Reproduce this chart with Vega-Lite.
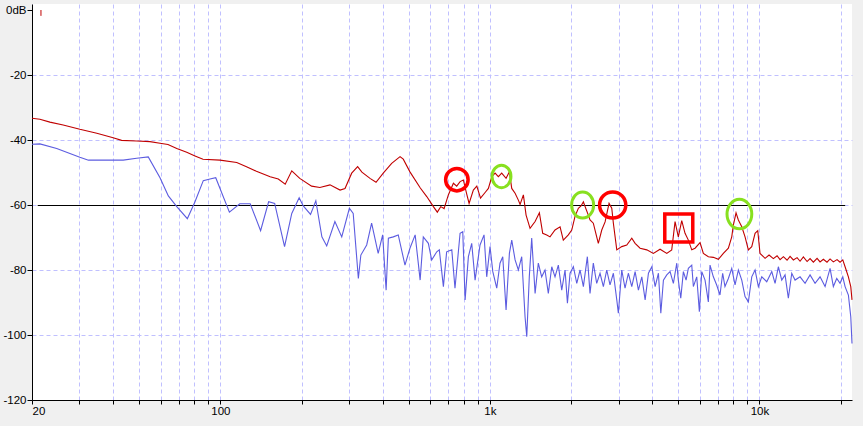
{
"$schema": "https://vega.github.io/schema/vega-lite/v6.json",
"width": 820, "height": 396,
"autosize": {"type": "none"},
"padding": {"left": 32, "top": 4, "right": 11, "bottom": 26},
"background": "#f0f0f0",
"config": {"view": {"fill": "white", "stroke": null}, "font": "Liberation Sans",
 "axis": {"labelFont": "Liberation Sans", "labelFontSize": 11.5, "labelColor": "black", "tickColor": "black", "domainColor": "black", "title": null, "gridDash": [4, 3], "labelOverlap": false}},
"datasets": {
"red": [
{"f":20,"db":-33.3},{"f":21.4,"db":-33.6},{"f":23.3,"db":-34.5},{"f":26.1,"db":-35.4},{"f":30.1,"db":-36.7},{"f":34.8,"db":-37.9},{"f":40,"db":-39.3},{"f":43,"db":-40.1},{"f":48.9,"db":-40.3},{"f":54.8,"db":-40.5},{"f":59.7,"db":-41.0},{"f":63.9,"db":-41.4},{"f":68.9,"db":-42.6},{"f":75,"db":-43.8},{"f":80.5,"db":-44.9},{"f":86.2,"db":-45.9},{"f":99.7,"db":-46.2},{"f":115,"db":-46.9},{"f":125,"db":-48.2},{"f":136,"db":-49.6},{"f":153,"db":-51.3},{"f":164,"db":-52.0},{"f":174,"db":-53.6},{"f":184,"db":-49.5},{"f":197,"db":-51.8},{"f":218,"db":-54.2},{"f":234,"db":-54.6},{"f":255,"db":-53.8},{"f":278,"db":-55.4},{"f":290,"db":-54.9},{"f":307,"db":-50.2},{"f":323,"db":-48.2},{"f":335,"db":-49.9},{"f":359,"db":-51.8},{"f":378,"db":-53.0},{"f":402,"db":-50.2},{"f":432,"db":-47.2},{"f":464,"db":-45.1},{"f":477,"db":-45.9},{"f":505,"db":-49.8},{"f":551,"db":-54.7},{"f":583,"db":-57.4},{"f":617,"db":-60.5},{"f":638,"db":-62.2},{"f":657,"db":-60.5},{"f":676,"db":-61.1},{"f":701,"db":-56.9},{"f":732,"db":-53.3},{"f":753,"db":-54.2},{"f":775,"db":-52.8},{"f":797,"db":-52.3},{"f":819,"db":-56.4},{"f":837,"db":-59.5},{"f":868,"db":-55.4},{"f":894,"db":-54.2},{"f":923,"db":-57.9},{"f":963,"db":-56.0},{"f":987,"db":-54.9},{"f":1016,"db":-51.3},{"f":1045,"db":-50.2},{"f":1075,"db":-51.3},{"f":1106,"db":-50.2},{"f":1148,"db":-51.8},{"f":1181,"db":-49.8},{"f":1205,"db":-54.9},{"f":1240,"db":-56.4},{"f":1275,"db":-58.5},{"f":1294,"db":-59.8},{"f":1331,"db":-56.9},{"f":1362,"db":-63.1},{"f":1409,"db":-67.2},{"f":1471,"db":-65.1},{"f":1526,"db":-62.4},{"f":1570,"db":-68.7},{"f":1625,"db":-69.2},{"f":1671,"db":-69.8},{"f":1744,"db":-67.7},{"f":1821,"db":-66.7},{"f":1872,"db":-70.8},{"f":1954,"db":-69.2},{"f":2012,"db":-67.7},{"f":2070,"db":-63.4},{"f":2129,"db":-61.0},{"f":2178,"db":-60.3},{"f":2222,"db":-59.0},{"f":2267,"db":-61.0},{"f":2318,"db":-63.1},{"f":2352,"db":-64.6},{"f":2419,"db":-65.6},{"f":2490,"db":-69.8},{"f":2525,"db":-71.8},{"f":2600,"db":-67.7},{"f":2675,"db":-65.2},{"f":2767,"db":-59.5},{"f":2832,"db":-61.0},{"f":2871,"db":-65.6},{"f":2956,"db":-73.8},{"f":3084,"db":-72.8},{"f":3219,"db":-72.3},{"f":3360,"db":-70.2},{"f":3457,"db":-71.8},{"f":3607,"db":-73.3},{"f":3820,"db":-73.8},{"f":4040,"db":-74.9},{"f":4278,"db":-73.6},{"f":4531,"db":-74.9},{"f":4727,"db":-73.8},{"f":4863,"db":-65.1},{"f":5001,"db":-69.8},{"f":5149,"db":-64.8},{"f":5296,"db":-68.7},{"f":5448,"db":-70.8},{"f":5609,"db":-73.8},{"f":5769,"db":-73.3},{"f":6021,"db":-71.6},{"f":6193,"db":-74.9},{"f":6463,"db":-75.9},{"f":6745,"db":-76.1},{"f":7040,"db":-76.7},{"f":7347,"db":-74.9},{"f":7668,"db":-73.3},{"f":7893,"db":-69.8},{"f":8002,"db":-66.2},{"f":8188,"db":-62.4},{"f":8352,"db":-64.6},{"f":8598,"db":-66.7},{"f":8843,"db":-69.8},{"f":9097,"db":-73.8},{"f":9364,"db":-72.8},{"f":9633,"db":-68.7},{"f":9857,"db":-67.9},{"f":10050,"db":-74.9},{"f":10492,"db":-76.4},{"f":10856,"db":-75.4},{"f":11263,"db":-76.5},{"f":11626,"db":-75.6},{"f":11927,"db":-76.8},{"f":12271,"db":-75.9},{"f":12660,"db":-77.0},{"f":12990,"db":-75.8},{"f":13364,"db":-76.9},{"f":13794,"db":-76.2},{"f":14148,"db":-77.3},{"f":14554,"db":-76.0},{"f":15023,"db":-77.4},{"f":15410,"db":-76.5},{"f":15851,"db":-77.6},{"f":16362,"db":-76.4},{"f":16784,"db":-77.5},{"f":17265,"db":-76.7},{"f":17810,"db":-77.6},{"f":18282,"db":-76.6},{"f":18802,"db":-77.5},{"f":19406,"db":-76.8},{"f":19914,"db":-77.6},{"f":20380,"db":-76.9},{"f":20784,"db":-79.0},{"f":21380,"db":-82.1},{"f":21820,"db":-85.1},{"f":22050,"db":-89.2}
],
"blue": [
{"f":20,"db":-41.3},{"f":21.4,"db":-41.2},{"f":24.7,"db":-42.6},{"f":30.1,"db":-45.3},{"f":32.4,"db":-46.2},{"f":43.6,"db":-46.2},{"f":48.9,"db":-45.6},{"f":54,"db":-45.2},{"f":59.7,"db":-51.6},{"f":64.1,"db":-57.2},{"f":68.9,"db":-60.5},{"f":75.4,"db":-64.2},{"f":80.5,"db":-59.0},{"f":86.4,"db":-52.5},{"f":91.5,"db":-52.0},{"f":96.1,"db":-51.6},{"f":108,"db":-62.2},{"f":118,"db":-59.6},{"f":129,"db":-59.6},{"f":141,"db":-67.9},{"f":151,"db":-59.0},{"f":159,"db":-59.5},{"f":173,"db":-72.8},{"f":184,"db":-62.6},{"f":196,"db":-57.8},{"f":203,"db":-60.3},{"f":216,"db":-62.9},{"f":226,"db":-58.7},{"f":238,"db":-69.8},{"f":248,"db":-72.6},{"f":266,"db":-65.1},{"f":282,"db":-69.8},{"f":301,"db":-61.0},{"f":311,"db":-62.6},{"f":325,"db":-82.6},{"f":332,"db":-75.4},{"f":349,"db":-72.3},{"f":364,"db":-65.6},{"f":385,"db":-74.9},{"f":400,"db":-69.2},{"f":412,"db":-86.2},{"f":420,"db":-70.2},{"f":438,"db":-69.8},{"f":457,"db":-69.2},{"f":484,"db":-78.5},{"f":505,"db":-73.3},{"f":528,"db":-69.2},{"f":551,"db":-83.1},{"f":566,"db":-69.8},{"f":591,"db":-71.8},{"f":608,"db":-76.9},{"f":635,"db":-74.4},{"f":649,"db":-73.8},{"f":672,"db":-85.1},{"f":691,"db":-74.4},{"f":722,"db":-73.8},{"f":742,"db":-85.6},{"f":775,"db":-68.7},{"f":793,"db":-68.2},{"f":809,"db":-89.2},{"f":832,"db":-75.9},{"f":856,"db":-71.8},{"f":881,"db":-83.1},{"f":919,"db":-72.3},{"f":951,"db":-69.2},{"f":973,"db":-82.1},{"f":1001,"db":-72.8},{"f":1025,"db":-80.5},{"f":1060,"db":-85.6},{"f":1090,"db":-77.9},{"f":1116,"db":-75.9},{"f":1148,"db":-92.3},{"f":1181,"db":-74.9},{"f":1205,"db":-70.8},{"f":1240,"db":-76.9},{"f":1275,"db":-80.0},{"f":1312,"db":-75.9},{"f":1350,"db":-94.4},{"f":1370,"db":-100.5},{"f":1400,"db":-82.1},{"f":1429,"db":-70.2},{"f":1471,"db":-87.2},{"f":1512,"db":-77.9},{"f":1556,"db":-82.1},{"f":1601,"db":-80.0},{"f":1647,"db":-87.2},{"f":1696,"db":-79.0},{"f":1744,"db":-82.1},{"f":1794,"db":-78.5},{"f":1847,"db":-86.2},{"f":1900,"db":-80.0},{"f":1939,"db":-90.2},{"f":1983,"db":-81.0},{"f":2040,"db":-79.0},{"f":2100,"db":-84.1},{"f":2160,"db":-80.0},{"f":2222,"db":-85.1},{"f":2299,"db":-75.9},{"f":2352,"db":-87.2},{"f":2419,"db":-77.9},{"f":2490,"db":-84.1},{"f":2562,"db":-81.0},{"f":2636,"db":-85.1},{"f":2713,"db":-80.0},{"f":2790,"db":-84.6},{"f":2871,"db":-81.0},{"f":2956,"db":-89.2},{"f":2996,"db":-93.3},{"f":3084,"db":-80.0},{"f":3172,"db":-85.6},{"f":3263,"db":-81.0},{"f":3360,"db":-85.1},{"f":3457,"db":-80.5},{"f":3556,"db":-86.2},{"f":3661,"db":-82.1},{"f":3766,"db":-89.2},{"f":3874,"db":-81.0},{"f":3988,"db":-79.0},{"f":4102,"db":-85.1},{"f":4219,"db":-81.0},{"f":4306,"db":-93.3},{"f":4403,"db":-83.1},{"f":4531,"db":-81.5},{"f":4660,"db":-80.5},{"f":4794,"db":-84.1},{"f":4935,"db":-77.9},{"f":5001,"db":-83.1},{"f":5106,"db":-88.7},{"f":5221,"db":-80.5},{"f":5343,"db":-83.1},{"f":5448,"db":-79.5},{"f":5609,"db":-78.5},{"f":5686,"db":-85.1},{"f":5853,"db":-82.1},{"f":5985,"db":-92.8},{"f":6109,"db":-80.5},{"f":6283,"db":-83.1},{"f":6463,"db":-89.8},{"f":6557,"db":-78.5},{"f":6745,"db":-82.1},{"f":6939,"db":-84.6},{"f":7138,"db":-87.7},{"f":7304,"db":-81.0},{"f":7449,"db":-85.1},{"f":7668,"db":-82.6},{"f":7893,"db":-79.5},{"f":8119,"db":-84.6},{"f":8352,"db":-80.0},{"f":8598,"db":-83.1},{"f":8843,"db":-88.2},{"f":9097,"db":-89.8},{"f":9364,"db":-82.1},{"f":9633,"db":-80.0},{"f":9908,"db":-85.1},{"f":10201,"db":-82.1},{"f":10645,"db":-83.6},{"f":11110,"db":-80.5},{"f":11428,"db":-84.1},{"f":11754,"db":-79.0},{"f":12100,"db":-83.1},{"f":12447,"db":-81.5},{"f":12802,"db":-88.7},{"f":13179,"db":-81.0},{"f":13557,"db":-83.1},{"f":14148,"db":-82.1},{"f":14767,"db":-84.1},{"f":15410,"db":-81.5},{"f":16083,"db":-84.1},{"f":16784,"db":-82.1},{"f":17518,"db":-85.1},{"f":18282,"db":-79.5},{"f":18802,"db":-85.1},{"f":19355,"db":-82.6},{"f":19914,"db":-84.1},{"f":20380,"db":-82.1},{"f":20784,"db":-85.1},{"f":21380,"db":-87.7},{"f":21820,"db":-94.4},{"f":22050,"db":-102.6}
],
"marks": [
{"f":754,"db":-52.2,"kind":"red","id":"a"},{"f":2854,"db":-60.0,"kind":"red","id":"b"},
{"f":1104,"db":-51.2,"kind":"green","id":"a"},{"f":2208,"db":-60.0,"kind":"green","id":"b"},{"f":8426,"db":-62.8,"kind":"green","id":"c"},
{"f":5020,"db":-67.1,"kind":"box","id":"a"}
]
},
"layer": [
{"data": {"values": [{"f1": 21, "f2": 20800, "db": -60}]},
 "mark": {"type": "rule", "color": "black", "strokeWidth": 1},
 "encoding": {
  "x": {"field": "f1", "type": "quantitative",
   "scale": {"type": "log", "domain": [20, 22050], "nice": false},
   "axis": {"values": [20,30,40,50,60,70,80,90,100,200,300,400,500,600,700,800,900,1000,2000,3000,4000,5000,6000,7000,8000,9000,10000,20000],
    "labelExpr": "datum.value == 20 ? '20' : datum.value == 100 ? '100' : datum.value == 1000 ? '1k' : datum.value == 10000 ? '10k' : ''",
    "tickSize": 4, "labelPadding": 1, "labelFlush": true, "grid": true, "gridColor": "#c0c0ff"}},
  "x2": {"field": "f2"},
  "y": {"field": "db", "type": "quantitative",
   "scale": {"domain": [-120, 1.85], "nice": false, "zero": false},
   "axis": {"values": [0,-20,-40,-60,-80,-100,-120],
    "labelExpr": "datum.value == 0 ? '0dB' : '' + datum.value",
    "tickSize": 5, "labelPadding": 1, "grid": true,
    "gridColor": {"condition": {"test": "datum.value == 0 || datum.value == -120", "value": "transparent"}, "value": "#c0c0ff"}}},
  "yOffset": {"value": 0.5}
 }},
{"data": {"name": "blue"},
 "mark": {"type": "line", "color": "#5c5ce0", "strokeWidth": 1.1},
 "encoding": {"x": {"field": "f", "type": "quantitative"}, "y": {"field": "db", "type": "quantitative"}}},
{"data": {"name": "red"},
 "mark": {"type": "line", "color": "#c00000", "strokeWidth": 1.1},
 "encoding": {"x": {"field": "f", "type": "quantitative"}, "y": {"field": "db", "type": "quantitative"}}},
{"data": {"values": [{"f": 21.5, "db1": 0, "db2": -1.8}]},
 "mark": {"type": "rule", "color": "#c00000", "strokeWidth": 1},
 "encoding": {"x": {"field": "f", "type": "quantitative"}, "y": {"field": "db1", "type": "quantitative"}, "y2": {"field": "db2"}, "xOffset": {"value": 0.5}}},
{"mark": {"type": "rule", "color": "black", "strokeWidth": 1},
 "encoding": {"x": {"datum": 22050}, "xOffset": {"value": 0.5}}},
{"data": {"name": "marks"}, "transform": [{"filter": "datum.kind == 'red'"}],
 "mark": {"type": "point", "shape": "circle", "filled": false, "stroke": "#ff0000", "strokeWidth": 3.5, "opacity": 1},
 "encoding": {"x": {"field": "f", "type": "quantitative"}, "y": {"field": "db", "type": "quantitative"},
  "size": {"field": "id", "type": "ordinal", "scale": {"domain": ["a", "b"], "range": [506, 870]}, "legend": null}}},
{"data": {"name": "marks"}, "transform": [{"filter": "datum.kind == 'green'"}],
 "mark": {"type": "point", "shape": "M 0,-1 A 0.84,1 0 1,1 0,1 A 0.84,1 0 1,1 0,-1 Z", "filled": false, "stroke": "#88e020", "strokeWidth": 3, "opacity": 1},
 "encoding": {"x": {"field": "f", "type": "quantitative"}, "y": {"field": "db", "type": "quantitative"},
  "size": {"field": "id", "type": "ordinal", "scale": {"domain": ["a", "b", "c"], "range": [576, 361, 441]}, "legend": null}}},
{"data": {"name": "marks"}, "transform": [{"filter": "datum.kind == 'box'"}],
 "mark": {"type": "point", "shape": "square", "filled": false, "stroke": "#ff0000", "strokeWidth": 3.5, "opacity": 1, "size": 784},
 "encoding": {"x": {"field": "f", "type": "quantitative"}, "y": {"field": "db", "type": "quantitative"}}}
]
}
